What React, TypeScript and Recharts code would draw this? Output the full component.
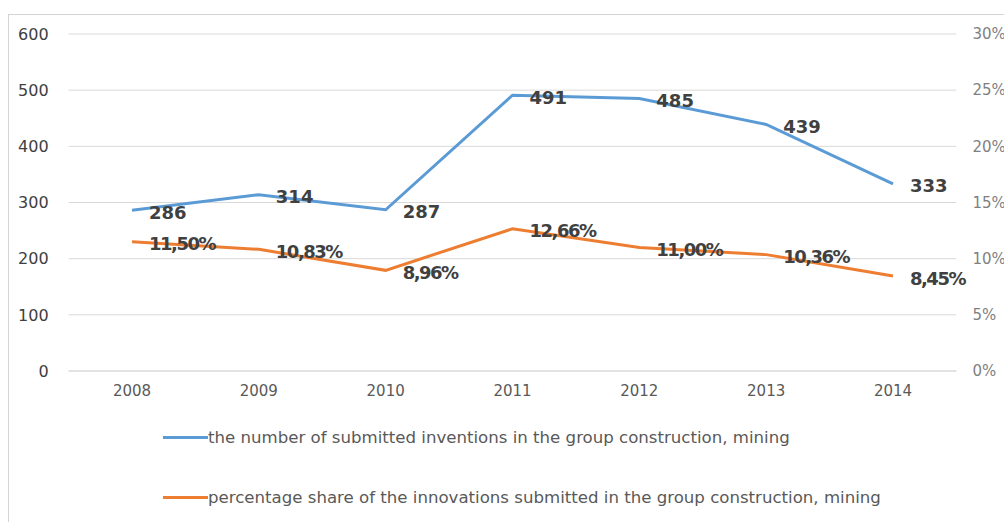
import React from "react";
import { LineChart, Line, XAxis, YAxis, CartesianGrid, Legend, LabelList } from "recharts";

const years = ["2008", "2009", "2010", "2011", "2012", "2013", "2014"];
const inventions = [286, 314, 287, 491, 485, 439, 333];
const shares = [11.5, 10.83, 8.96, 12.66, 11.0, 10.36, 8.45];
const leftTicks = [0, 100, 200, 300, 400, 500, 600];
const rightTicks = [0, 5, 10, 15, 20, 25, 30];
const seriesNames = [
  "the number of submitted inventions in the group construction, mining",
  "percentage share of the innovations submitted in the group construction, mining",
];
const colors = ["#5B9BD5", "#ED7D31"];

const data = years.map((y, i) => ({ year: y, inv: inventions[i], share: shares[i] }));

const FONT = "'DejaVu Sans', sans-serif";

const makeLabel = (fmt: (v: number) => string, spacing: number) => (props: any) => {
  const { x, y, value } = props;
  return (
    <text
      x={Number(x) + 17}
      y={Number(y) + 2}
      dominantBaseline="central"
      textAnchor="start"
      fontFamily={FONT}
      fontSize={18}
      fontWeight="bold"
      letterSpacing={spacing}
      fill="#404040"
    >
      {fmt(Number(value))}
    </text>
  );
};

const LegendContent = () => (
  <div style={{ position: "relative", width: 1004, height: 100, fontFamily: FONT }}>
    {seriesNames.map((n, i) => (
      <div
        key={n}
        style={{
          position: "absolute",
          left: 163,
          top: i * 60,
          height: 20,
          display: "flex",
          alignItems: "center",
          whiteSpace: "nowrap",
        }}
      >
        <div style={{ width: 45, height: 3, background: colors[i] }} />
        <span style={{ fontSize: 16.6, color: "#595959" }}>{n}</span>
      </div>
    ))}
  </div>
);

export default function App() {
  return (
    <div style={{ position: "relative", width: 1004, height: 522, overflow: "hidden", background: "#fff" }}>
      <style>{`body{margin:0;overflow:hidden;}`}</style>
      <div
        style={{
          position: "absolute",
          left: 8,
          top: 14,
          width: 1010,
          height: 520,
          border: "1px solid #d4d4d4",
        }}
      />
      <div style={{ position: "absolute", left: 0, top: 0 }}>
        <LineChart
          width={1004}
          height={522}
          data={data}
          margin={{ top: 34, right: 0, bottom: 121, left: 0 }}
        >
          <CartesianGrid vertical={false} stroke="#d9d9d9" yAxisId="left" />
          <XAxis
            dataKey="year"
            padding={{ left: 63.4, right: 63.4 }}
            axisLine={{ stroke: "#d9d9d9" }}
            tickLine={false}
            height={30}
            tickMargin={8}
            tick={{ fontFamily: FONT, fontSize: 15, fill: "#595959" }}
          />
          <YAxis
            yAxisId="left"
            domain={[0, 600]}
            ticks={leftTicks}
            width={68.6}
            axisLine={false}
            tickLine={false}
            tickMargin={14}
            tick={{ fontFamily: FONT, fontSize: 16, fill: "#404040" }}
          />
          <YAxis
            yAxisId="right"
            orientation="right"
            domain={[0, 30]}
            ticks={rightTicks}
            width={47.6}
            axisLine={false}
            tickLine={false}
            tickMargin={10}
            tickFormatter={(v: number) => `${v}%`}
            tick={{ fontFamily: FONT, fontSize: 15, fill: "#7f7f7f" }}
          />
          <Legend
            layout="horizontal"
            verticalAlign="middle"
            align="center"
            wrapperStyle={{ left: 0, top: 427, width: 1004 }}
            content={() => <LegendContent />}
          />
          <Line
            yAxisId="left"
            type="linear"
            dataKey="inv"
            name={seriesNames[0]}
            stroke={colors[0]}
            strokeWidth={3}
            dot={false}
            isAnimationActive={false}
          >
            <LabelList dataKey="inv" content={makeLabel((v) => String(v), 0)} />
          </Line>
          <Line
            yAxisId="right"
            type="linear"
            dataKey="share"
            name={seriesNames[1]}
            stroke={colors[1]}
            strokeWidth={3}
            dot={false}
            isAnimationActive={false}
          >
            <LabelList
              dataKey="share"
              content={makeLabel((v) => v.toFixed(2).replace(".", ",") + "%", -1.5)}
            />
          </Line>
        </LineChart>
      </div>
    </div>
  );
}
